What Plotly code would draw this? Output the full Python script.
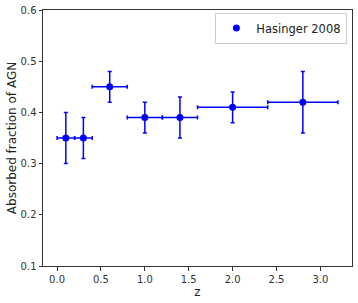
import plotly.graph_objects as go

z = [0.1, 0.3, 0.6, 1.0, 1.4, 2.0, 2.8]
frac = [0.35, 0.35, 0.45, 0.39, 0.39, 0.41, 0.42]
z_err = [0.1, 0.1, 0.2, 0.2, 0.2, 0.4, 0.4]
frac_err_plus = [0.05, 0.04, 0.03, 0.03, 0.04, 0.03, 0.06]
frac_err_minus = [0.05, 0.04, 0.03, 0.03, 0.04, 0.03, 0.06]
x_ticks = [0.0, 0.5, 1.0, 1.5, 2.0, 2.5, 3.0]
y_ticks = [0.1, 0.2, 0.3, 0.4, 0.5, 0.6]

fig = go.Figure()
fig.add_trace(go.Scatter(
    x=z, y=frac, mode="markers", name="Hasinger 2008",
    marker=dict(color="blue", size=7),
    error_x=dict(type="data", array=z_err, color="blue", thickness=1.5, width=2),
    error_y=dict(type="data", array=frac_err_plus, arrayminus=frac_err_minus,
                 color="blue", thickness=1.5, width=2),
))

axis_common = dict(showgrid=False, zeroline=False, showline=True, linecolor="#333",
                   linewidth=1, mirror=True, ticks="outside", ticklen=3.5,
                   tickcolor="#333", tickfont=dict(size=10, color="#333"),
                   automargin=False)
fig.update_layout(
    width=358, height=303,
    margin=dict(l=43, r=6, t=10, b=37),
    paper_bgcolor="white", plot_bgcolor="white",
    font=dict(family="DejaVu Sans", color="#222"),
    xaxis=dict(range=[-0.16, 3.36], tickvals=x_ticks,
               ticktext=[f"{v:.1f}" for v in x_ticks],
               title=dict(text="z", font=dict(size=12), standoff=4), **axis_common),
    yaxis=dict(range=[0.1, 0.6], tickvals=y_ticks,
               ticktext=[f"{v:.1f}" for v in y_ticks],
               title=dict(text="Absorbed fraction of AGN", font=dict(size=12), standoff=1),
               **axis_common),
    showlegend=True,
    legend=dict(x=0.985, y=0.99, xanchor="right", yanchor="top",
                bgcolor="white", bordercolor="#ccc", borderwidth=1,
                font=dict(size=11.5, color="#222")),
)
fig.write_html("out.html", config={"displayModeBar": False},
               post_script="document.body.style.margin='0';")
